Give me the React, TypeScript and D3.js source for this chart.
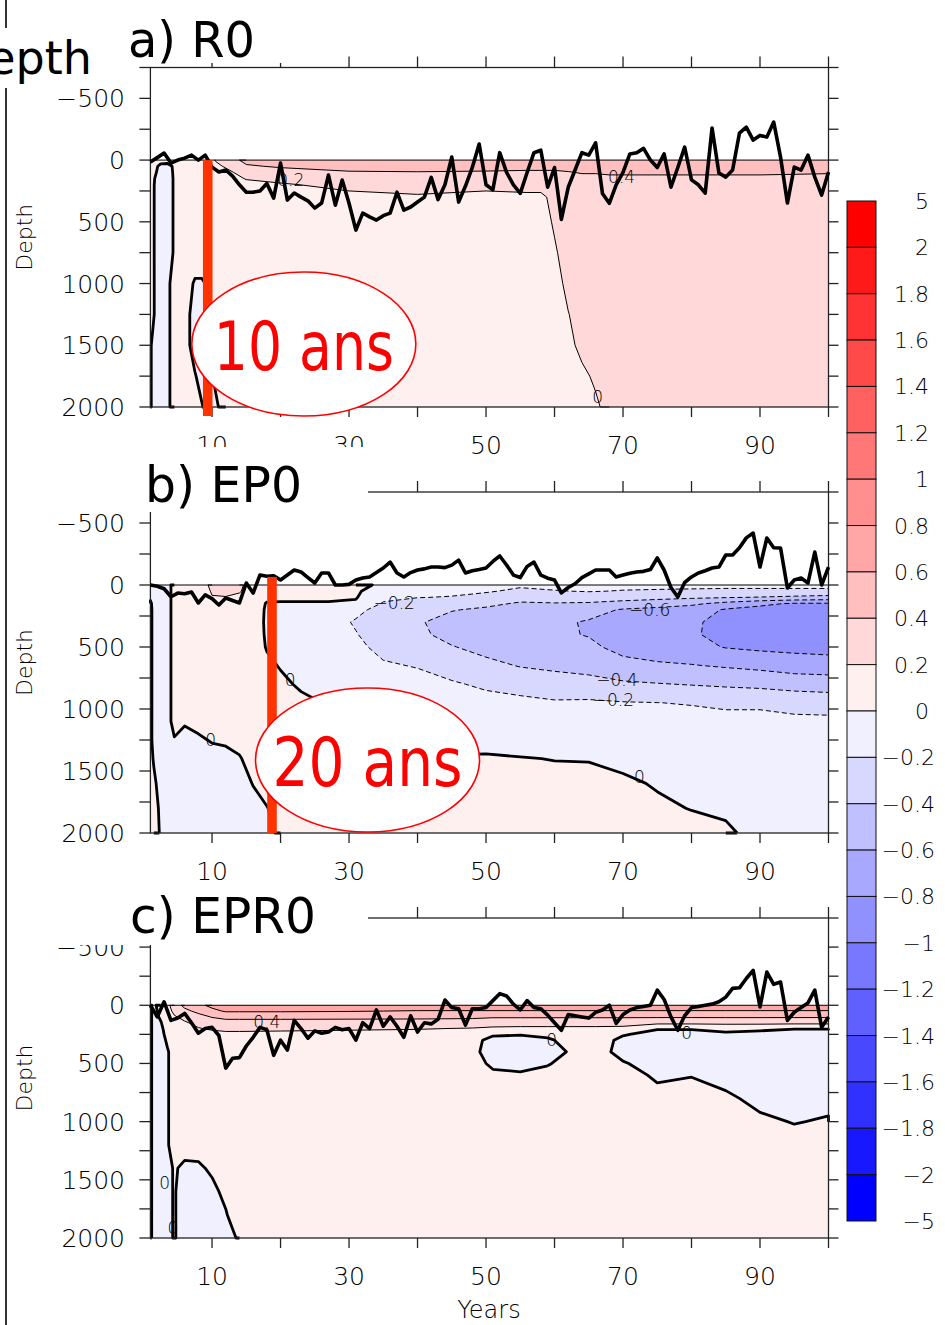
import React from 'react';
import * as d3 from 'd3';

// ---------------- contour levels / colour bar ----------------
const LEVELS = [-5, -2, -1.8, -1.6, -1.4, -1.2, -1, -0.8, -0.6, -0.4, -0.2, 0, 0.2, 0.4, 0.6, 0.8, 1, 1.2, 1.4, 1.6, 1.8, 2, 5];
const BAND_COLORS = ['#0000ff', '#1818ff', '#3030ff', '#4848ff', '#6060ff', '#7878ff', '#9090ff', '#a8a8ff', '#c0c0ff', '#d8d8ff', '#f0f0ff',
  '#fff0f0', '#ffd9d9', '#ffbfbf', '#ffa6a6', '#ff8e8e', '#ff7777', '#ff6060', '#ff4a4a', '#ff3333', '#ff1a1a', '#ff0000'];
const LINE_LEVELS = [-0.8, -0.6, -0.4, -0.2, 0, 0.2, 0.4, 0.6];

// ---------------- axes ----------------
const YEAR_TICKS = [10, 20, 30, 40, 50, 60, 70, 80, 90, 100];
const YEAR_LABELS = [10, 30, 50, 70, 90];
const DEPTH_TICKS = [-750, -500, -250, 0, 250, 500, 750, 1000, 1250, 1500, 1750, 2000];
const DEPTH_LABELS = [-500, 0, 500, 1000, 1500, 2000];
const LINE_YEARS = d3.range(1, 101);

// ---------------- panel a) R0 : field (rows = depths, cols = years) ----------------
const A_YEARS = [1, 1.5, 2.5, 3.5, 4.5, 5.5, 6.5, 7.5, 8.5, 9.5, 10.5, 12, 15, 20, 30, 40, 50, 56, 58, 60, 62, 64, 66, 68, 70, 80, 90, 100];
const A_DEPTHS = [0, 50, 100, 150, 200, 300, 500, 750, 1000, 1250, 1500, 1750, 2000];
const A_ROWS = [
  [0.05, 0.05, 0.05, 0.05, 0.05, 0.06, 0.06, 0.06, 0.08, 0.12, 0.21, 0.3, 0.45, 0.5, 0.55, 0.55, 0.55, 0.55, 0.55, 0.55, 0.52, 0.52, 0.52, 0.52, 0.52, 0.52, 0.52, 0.52],
  [0.05, 0.04, -0.03, -0.04, 0.02, 0.06, 0.06, 0.06, 0.07, 0.1, 0.16, 0.22, 0.38, 0.42, 0.48, 0.48, 0.47, 0.46, 0.46, 0.46, 0.46, 0.46, 0.46, 0.47, 0.47, 0.47, 0.47, 0.47],
  [0.05, 0.03, -0.05, -0.06, 0.02, 0.07, 0.07, 0.07, 0.07, 0.08, 0.1, 0.15, 0.28, 0.33, 0.38, 0.39, 0.38, 0.37, 0.37, 0.37, 0.39, 0.41, 0.41, 0.42, 0.42, 0.42, 0.42, 0.41],
  [0.04, 0.01, -0.07, -0.08, 0.02, 0.08, 0.08, 0.08, 0.08, 0.08, 0.08, 0.12, 0.21, 0.25, 0.3, 0.33, 0.3, 0.3, 0.3, 0.31, 0.35, 0.36, 0.36, 0.37, 0.37, 0.37, 0.37, 0.36],
  [0.03, 0.005, -0.08, -0.08, 0.02, 0.08, 0.08, 0.08, 0.08, 0.08, 0.08, 0.1, 0.15, 0.18, 0.25, 0.27, 0.25, 0.25, 0.25, 0.27, 0.31, 0.32, 0.32, 0.33, 0.33, 0.33, 0.33, 0.32],
  [0.02, 0.005, -0.09, -0.08, 0.02, 0.09, 0.09, 0.09, 0.09, 0.09, 0.09, 0.09, 0.1, 0.1, 0.15, 0.18, 0.15, 0.17, 0.17, 0.24, 0.28, 0.29, 0.29, 0.3, 0.3, 0.3, 0.3, 0.3],
  [0.02, 0.005, -0.09, -0.08, 0.02, 0.09, 0.09, 0.09, 0.09, 0.09, 0.09, 0.09, 0.09, 0.09, 0.1, 0.1, 0.1, 0.12, 0.13, 0.22, 0.27, 0.28, 0.28, 0.28, 0.28, 0.28, 0.28, 0.28],
  [0.02, 0.005, -0.09, -0.08, 0.02, 0.1, 0.1, 0.1, 0.1, 0.1, 0.1, 0.1, 0.1, 0.1, 0.1, 0.1, 0.1, 0.1, 0.12, 0.18, 0.27, 0.28, 0.28, 0.28, 0.28, 0.28, 0.28, 0.28],
  [0.02, 0.005, -0.08, -0.08, 0.15, 0.1, 0.05, -0.02, -0.02, 0.02, 0.06, 0.08, 0.1, 0.1, 0.1, 0.1, 0.1, 0.1, 0.1, 0.14, 0.24, 0.28, 0.28, 0.28, 0.28, 0.28, 0.28, 0.28],
  [0.02, 0.005, -0.08, -0.08, 0.15, 0.1, 0.02, -0.06, -0.06, -0.01, 0.05, 0.08, 0.1, 0.1, 0.1, 0.1, 0.1, 0.1, 0.1, 0.12, 0.195, 0.26, 0.28, 0.28, 0.28, 0.28, 0.28, 0.28],
  [0.01, -0.03, -0.08, -0.08, 0.15, 0.1, 0.02, -0.06, -0.06, -0.01, 0.05, 0.08, 0.1, 0.1, 0.1, 0.1, 0.1, 0.1, 0.1, 0.12, 0.15, 0.25, 0.27, 0.28, 0.28, 0.28, 0.28, 0.28],
  [0.01, -0.03, -0.08, -0.08, 0.15, 0.1, 0.08, 0.01, -0.05, -0.03, 0.02, 0.06, 0.1, 0.1, 0.1, 0.1, 0.1, 0.1, 0.1, 0.1, 0.13, 0.16, 0.23, 0.27, 0.28, 0.28, 0.28, 0.28],
  [0.01, -0.03, -0.08, -0.08, 0.15, 0.1, 0.08, 0.06, 0.01, -0.05, -0.02, 0.05, 0.1, 0.1, 0.1, 0.1, 0.1, 0.1, 0.1, 0.1, 0.12, 0.13, 0.17, 0.26, 0.28, 0.28, 0.28, 0.28],
];
const A_LINE = [
  16, -20, -57, 24, 0, -16, -40, 0, -40, 57,
  97, 80, 130, 200, 260, 260, 250, 190, 308, 24,
  324, 267, 300, 330, 389, 348, 121, 365, 162, 350,
  567, 429, 460, 486, 450, 430, 260, 405, 380, 340,
  300, 140, 320, 200, -25, 340, 210, 60, -130, 200,
  240, -60, 100, 200, 270, 100, -60, -80, 220, 60,
  480, 220, 80, -60, -40, -140, 270, 350, 200, 100,
  -50, -60, -95, 0, 60, -50, 220, 60, -105, 160,
  200, 267, -260, 105, 138, 80, -219, -267, -162, -200,
  -186, -308, -24, 348, 57, 81, -40, 138, 283, 97,
];

// ---------------- panel b) EP0 : field (one profile per year, values at depths) ----------------
const B_YEARS = [1, 1.5, 2.5, 3.5, 4.5, 6, 8, 10, 12, 14, 16, 18, 20, 23, 27, 31, 35, 40, 45, 50, 55, 60, 65, 70, 75, 80, 85, 90, 95, 100];
const B_DEPTHS = [0, 50, 100, 150, 200, 300, 400, 500, 650, 800, 950, 1100, 1250, 1400, 1600, 1800, 2000];
const B_PROFILES = [
  [-0.03, -0.03, -0.02, 0.02, 0.03, 0.03, 0.03, 0.03, 0.03, 0.03, 0.03, 0.03, 0.03, 0.03, 0.03, 0.03, 0.03],
  [-0.04, -0.04, -0.04, -0.04, -0.04, -0.04, -0.04, -0.04, -0.04, -0.04, -0.04, -0.04, -0.04, -0.01, 0.02, 0.04, 0.04],
  [-0.08, -0.08, -0.08, -0.08, -0.08, -0.08, -0.08, -0.08, -0.08, -0.08, -0.08, -0.08, -0.08, -0.08, -0.04, -0.02, -0.01],
  [-0.05, -0.05, -0.05, -0.05, -0.05, -0.05, -0.05, -0.05, -0.05, -0.05, -0.05, -0.05, -0.06, -0.06, -0.06, -0.06, -0.06],
  [0.05, 0.05, 0.05, 0.05, 0.05, 0.05, 0.05, 0.05, 0.05, 0.05, 0.05, 0.05, -0.01, -0.05, -0.06, -0.06, -0.06],
  [0.06, 0.06, 0.06, 0.06, 0.06, 0.06, 0.06, 0.06, 0.06, 0.06, 0.06, 0.02, -0.06, -0.07, -0.07, -0.07, -0.07],
  [0.08, 0.06, 0.06, 0.06, 0.06, 0.06, 0.06, 0.06, 0.06, 0.06, 0.06, 0.04, -0.02, -0.06, -0.06, -0.06, -0.06],
  [0.25, 0.22, 0.19, 0.08, 0.06, 0.06, 0.06, 0.06, 0.06, 0.06, 0.06, 0.06, 0.01, -0.05, -0.06, -0.06, -0.06],
  [0.3, 0.26, 0.19, 0.1, 0.06, 0.06, 0.06, 0.06, 0.06, 0.06, 0.06, 0.06, 0.02, -0.04, -0.06, -0.06, -0.06],
  [0.24, 0.22, 0.15, 0.08, 0.06, 0.06, 0.06, 0.06, 0.06, 0.06, 0.06, 0.06, 0.04, -0.01, -0.05, -0.05, -0.05],
  [0.1, 0.08, 0.08, 0.08, 0.08, 0.08, 0.08, 0.08, 0.08, 0.08, 0.08, 0.08, 0.08, 0.05, 0.005, -0.04, -0.05],
  [0.05, 0.05, 0.03, -0.01, -0.02, -0.025, -0.02, -0.01, 0.03, 0.05, 0.05, 0.05, 0.05, 0.05, 0.05, -0.005, -0.03],
  [0.05, 0.04, 0.02, -0.01, -0.03, -0.05, -0.05, -0.04, -0.01, 0.03, 0.05, 0.05, 0.05, 0.05, 0.05, 0.05, 0.02],
  [0.05, 0.04, 0.02, -0.01, -0.04, -0.07, -0.08, -0.08, -0.06, -0.02, 0.03, 0.05, 0.05, 0.05, 0.05, 0.05, 0.05],
  [0.05, 0.04, 0.02, -0.01, -0.05, -0.12, -0.13, -0.12, -0.09, -0.05, -0.01, 0.03, 0.05, 0.05, 0.05, 0.05, 0.05],
  [0.03, 0.02, 0.01, -0.02, -0.15, -0.22, -0.19, -0.16, -0.12, -0.08, -0.04, -0.005, 0.03, 0.05, 0.05, 0.05, 0.05],
  [-0.02, -0.08, -0.15, -0.22, -0.27, -0.32, -0.3, -0.25, -0.18, -0.12, -0.08, -0.03, 0.01, 0.03, 0.05, 0.05, 0.05],
  [-0.1, -0.15, -0.195, -0.3, -0.35, -0.38, -0.36, -0.3, -0.21, -0.14, -0.09, -0.05, -0.005, 0.03, 0.05, 0.05, 0.05],
  [-0.12, -0.16, -0.21, -0.3, -0.39, -0.47, -0.46, -0.39, -0.28, -0.18, -0.12, -0.08, -0.04, 0.01, 0.04, 0.05, 0.05],
  [-0.14, -0.18, -0.27, -0.36, -0.43, -0.51, -0.52, -0.46, -0.35, -0.23, -0.14, -0.09, -0.03, 0.01, 0.03, 0.04, 0.05],
  [-0.17, -0.24, -0.34, -0.42, -0.48, -0.55, -0.56, -0.52, -0.41, -0.28, -0.15, -0.1, -0.05, 0.005, 0.03, 0.04, 0.05],
  [-0.15, -0.21, -0.32, -0.41, -0.48, -0.56, -0.57, -0.54, -0.44, -0.31, -0.18, -0.1, -0.04, -0.003, 0.03, 0.04, 0.05],
  [-0.14, -0.19, -0.31, -0.42, -0.52, -0.62, -0.61, -0.56, -0.46, -0.34, -0.17, -0.1, -0.05, -0.005, 0.03, 0.04, 0.05],
  [-0.15, -0.21, -0.33, -0.46, -0.62, -0.69, -0.7, -0.66, -0.54, -0.37, -0.19, -0.12, -0.07, -0.015, 0.01, 0.03, 0.05],
  [-0.15, -0.22, -0.35, -0.5, -0.66, -0.74, -0.75, -0.71, -0.57, -0.39, -0.198, -0.13, -0.09, -0.06, -0.005, 0.01, 0.03],
  [-0.15, -0.23, -0.37, -0.56, -0.7, -0.77, -0.78, -0.74, -0.59, -0.41, -0.21, -0.14, -0.1, -0.07, -0.04, -0.002, 0.02],
  [-0.15, -0.24, -0.39, -0.66, -0.82, -0.86, -0.85, -0.81, -0.62, -0.43, -0.23, -0.15, -0.11, -0.08, -0.05, -0.01, 0.01],
  [-0.15, -0.24, -0.41, -0.76, -0.86, -0.9, -0.89, -0.84, -0.65, -0.45, -0.23, -0.15, -0.12, -0.09, -0.06, -0.04, -0.02],
  [-0.15, -0.24, -0.44, -0.82, -0.87, -0.93, -0.92, -0.85, -0.7, -0.47, -0.28, -0.15, -0.12, -0.1, -0.07, -0.05, -0.03],
  [-0.15, -0.24, -0.47, -0.82, -0.88, -0.95, -0.93, -0.86, -0.72, -0.48, -0.3, -0.15, -0.13, -0.11, -0.09, -0.06, -0.04],
];
const B_LINE = [
  0, 10, 30, 95, 65, 70, 56, 145, 80, 110,
  161, 105, 125, 145, -16, 65, -81, -70, -75, -40,
  -80, -121, -105, -60, -16, -97, -97, 0, 0, -5,
  -40, -56, -65, -100, -137, -185, -97, -65, -100, -121,
  -130, -145, -145, -140, -160, -201, -97, -115, -125, -137,
  -190, -234, -161, -80, -60, -150, -185, -80, -55, -40,
  64, 20, -10, -60, -90, -121, -121, -121, -65, -80,
  -95, -105, -110, -125, -218, -121, 20, 97, -20, -65,
  -97, -115, -137, -145, -242, -242, -300, -380, -419, -145,
  -379, -300, -298, 24, -40, -56, -16, -266, 0, -145,
];

// ---------------- panel c) EPR0 ----------------
const C_YEARS = [1, 1.5, 2.5, 3.5, 4.5, 6, 8, 10, 12, 14, 20, 30, 40, 48, 51, 55, 59, 62, 66, 70, 75, 80, 85, 90, 95, 100];
const C_DEPTHS = [0, 50, 100, 150, 200, 250, 300, 400, 500, 600, 800, 1000, 1200, 1400, 1600, 1800, 2000];
const C_PROFILES = [
  [0.03, 0.03, 0.03, 0.03, 0.03, 0.03, 0.03, 0.03, 0.03, 0.03, 0.03, 0.03, 0.03, 0.03, 0.03, 0.03, 0.03],
  [-0.05, -0.05, -0.05, -0.05, -0.05, -0.05, -0.05, -0.05, -0.05, -0.05, -0.05, -0.05, -0.05, -0.05, -0.05, -0.05, -0.05],
  [0.1, 0.05, 0.02, -0.01, -0.03, -0.04, -0.05, -0.06, -0.06, -0.06, -0.06, -0.06, -0.06, -0.06, -0.06, -0.06, -0.06],
  [0.15, 0.12, 0.1, 0.08, 0.06, 0.04, 0.02, -0.01, -0.01, -0.01, -0.01, -0.01, -0.01, -0.03, -0.03, -0.03, -0.03],
  [0.3, 0.25, 0.18, 0.12, 0.1, 0.08, 0.08, 0.05, 0.05, 0.05, 0.05, 0.05, 0.05, 0.01, 0.01, 0.01, 0.01],
  [0.45, 0.35, 0.25, 0.18, 0.14, 0.12, 0.1, 0.08, 0.08, 0.08, 0.08, 0.08, 0.04, -0.02, -0.06, -0.06, -0.06],
  [0.55, 0.45, 0.33, 0.25, 0.19, 0.14, 0.11, 0.08, 0.08, 0.08, 0.08, 0.08, 0.05, -0.02, -0.05, -0.05, -0.05],
  [0.65, 0.55, 0.41, 0.3, 0.22, 0.15, 0.11, 0.08, 0.08, 0.08, 0.08, 0.08, 0.08, 0.02, -0.03, -0.05, -0.05],
  [0.7, 0.62, 0.45, 0.33, 0.24, 0.16, 0.12, 0.08, 0.08, 0.08, 0.08, 0.08, 0.08, 0.08, 0.03, -0.01, -0.03],
  [0.72, 0.62, 0.45, 0.33, 0.24, 0.16, 0.12, 0.08, 0.08, 0.08, 0.08, 0.08, 0.08, 0.08, 0.08, 0.08, 0.01],
  [0.72, 0.62, 0.45, 0.33, 0.23, 0.16, 0.12, 0.08, 0.08, 0.08, 0.08, 0.08, 0.08, 0.08, 0.08, 0.08, 0.08],
  [0.72, 0.61, 0.45, 0.32, 0.22, 0.15, 0.11, 0.08, 0.08, 0.08, 0.08, 0.08, 0.08, 0.08, 0.08, 0.08, 0.08],
  [0.72, 0.59, 0.45, 0.31, 0.21, 0.14, 0.1, 0.08, 0.08, 0.08, 0.08, 0.08, 0.08, 0.08, 0.08, 0.08, 0.08],
  [0.72, 0.59, 0.44, 0.3, 0.19, 0.1, 0.05, 0.04, 0.06, 0.08, 0.08, 0.08, 0.08, 0.08, 0.08, 0.08, 0.08],
  [0.72, 0.59, 0.42, 0.28, 0.17, 0.02, -0.05, -0.07, -0.03, 0.03, 0.08, 0.08, 0.08, 0.08, 0.08, 0.08, 0.08],
  [0.72, 0.59, 0.42, 0.28, 0.16, 0.01, -0.06, -0.08, -0.05, 0.02, 0.08, 0.08, 0.08, 0.08, 0.08, 0.08, 0.08],
  [0.72, 0.59, 0.42, 0.28, 0.16, 0.03, -0.02, -0.05, -0.01, 0.04, 0.08, 0.08, 0.08, 0.08, 0.08, 0.08, 0.08],
  [0.72, 0.59, 0.42, 0.28, 0.16, 0.08, 0.04, 0.005, 0.04, 0.08, 0.08, 0.08, 0.08, 0.08, 0.08, 0.08, 0.08],
  [0.72, 0.59, 0.42, 0.28, 0.16, 0.08, 0.06, 0.05, 0.06, 0.08, 0.08, 0.08, 0.08, 0.08, 0.08, 0.08, 0.08],
  [0.72, 0.59, 0.42, 0.28, 0.15, 0.01, -0.03, -0.04, 0.01, 0.05, 0.08, 0.08, 0.08, 0.08, 0.08, 0.08, 0.08],
  [0.72, 0.59, 0.42, 0.25, 0.01, -0.04, -0.06, -0.06, -0.05, -0.02, 0.04, 0.08, 0.08, 0.08, 0.08, 0.08, 0.08],
  [0.72, 0.59, 0.42, 0.25, 0.01, -0.04, -0.06, -0.06, -0.04, -0.005, 0.05, 0.08, 0.08, 0.08, 0.08, 0.08, 0.08],
  [0.72, 0.59, 0.42, 0.26, 0.03, -0.02, -0.05, -0.06, -0.05, -0.04, 0.02, 0.06, 0.08, 0.08, 0.08, 0.08, 0.08],
  [0.72, 0.59, 0.42, 0.26, 0.02, -0.03, -0.05, -0.06, -0.06, -0.05, -0.03, 0.02, 0.06, 0.08, 0.08, 0.08, 0.08],
  [0.72, 0.59, 0.42, 0.25, 0.005, -0.04, -0.06, -0.06, -0.06, -0.05, -0.04, -0.005, 0.04, 0.08, 0.08, 0.08, 0.08],
  [0.72, 0.59, 0.42, 0.25, 0.005, -0.04, -0.06, -0.06, -0.06, -0.05, -0.03, 0.01, 0.05, 0.08, 0.08, 0.08, 0.08],
];
const C_LINE = [
  0, 100, -30, 130, 110, 70, 150, 240, 200, 190,
  260, 540, 455, 450, 350, 275, 190, 210, 430, 300,
  385, 130, 200, 283, 220, 240, 230, 190, 210, 200,
  300, 150, 200, 40, 180, 100, 180, 275, 90, 230,
  150, 160, 120, -45, 20, 30, 170, 30, 30, 20,
  -40, -100, -80, -10, 40, -40, 20, 30, 85, 150,
  215, 80, 90, 100, 110, 60, 40, 0, 155, 80,
  40, 20, 10, 0, -130, -50, 100, 215, 90, 20,
  10, 0, -10, -30, -70, -145, -150, -230, -300, 15,
  -285, -180, -200, 130, 60, 20, -20, -130, 190, 100,
];

// ---------------- contour labels ----------------
const A_LABELS = [
  { year: 21.5, depth: 165, text: '0.2' },
  { year: 69.8, depth: 140, text: '0.4' },
  { year: 66.3, depth: 1915, text: '0' },
];
const B_LABELS = [
  { year: 36.6, depth: 145, text: '\u22120.2' },
  { year: 73.9, depth: 200, text: '\u22120.6' },
  { year: 69.1, depth: 770, text: '\u22120.4' },
  { year: 68.6, depth: 930, text: '\u22120.2' },
  { year: 21.4, depth: 766, text: '0' },
  { year: 9.8, depth: 1250, text: '0' },
  { year: 72.4, depth: 1550, text: '0' },
];
const C_LABELS = [
  { year: 59.6, depth: 300, text: '0' },
  { year: 79.3, depth: 240, text: '0' },
  { year: 3.1, depth: 1530, text: '0' },
  { year: 4.3, depth: 1910, text: '0' },
  { year: 18, depth: 140, text: '0.4' },
];

// ---------------- helpers ----------------
const fromRows = (rows: number[][]) => rows.flat();
const fromProfiles = (profiles: number[][]) => {
  const ny = profiles[0].length, nx = profiles.length;
  const out: number[] = [];
  for (let r = 0; r < ny; r++) for (let c = 0; c < nx; c++) out.push(profiles[c][r]);
  return out;
};
const fmt = (v: number) => (v < 0 ? '\u2212' : '') + String(Math.abs(v));

const X0 = 150.4, X1 = 828.5;
const FONT = "'DejaVu Sans', sans-serif";
const THIN = 200;

type PanelCfg = {
  title: string; titleX: number; titleLen: number; titleBase: number;
  top: number; bottom: number;
  years: number[]; depths: number[]; values: number[];
  line: number[]; labels: { year: number; depth: number; text: string }[];
  box: [number, number, number, number];
  bar: { year: number; d0: number; d1: number } | null;
  ellipse: { year: number; depth: number; text: string; len: number } | null;
};

const PANELS: PanelCfg[] = [
  {
    title: 'a) R0', titleX: 128, titleLen: 127, titleBase: 57, top: 67.5, bottom: 407,
    years: A_YEARS, depths: A_DEPTHS, values: fromRows(A_ROWS), line: A_LINE, labels: A_LABELS,
    box: [118, 0, 190, 63], bar: { year: 9.37, d0: 0, d1: 2073 },
    ellipse: { year: 23.4, depth: 1490, text: '10 ans', len: 180 },
  },
  {
    title: 'b) EP0', titleX: 145, titleLen: 157, titleBase: 502, top: 492, bottom: 833,
    years: B_YEARS, depths: B_DEPTHS, values: fromProfiles(B_PROFILES), line: B_LINE, labels: B_LABELS,
    box: [10, 447, 358, 65], bar: { year: 18.75, d0: -65, d1: 2000 },
    ellipse: { year: 32.7, depth: 1411, text: '20 ans', len: 190 },
  },
  {
    title: 'c) EPR0', titleX: 130, titleLen: 186, titleBase: 933, top: 918, bottom: 1238,
    years: C_YEARS, depths: C_DEPTHS, values: fromProfiles(C_PROFILES), line: C_LINE, labels: C_LABELS,
    box: [10, 882, 358, 63], bar: null, ellipse: null,
  },
];

function Panel({ p }: { p: PanelCfg }) {
  const x = d3.scaleLinear().domain([1, 100]).range([X0, X1]);
  const y = d3.scaleLinear().domain([-750, 2000]).range([p.top, p.bottom]);
  const nx = p.years.length, ny = p.depths.length;
  const gx = d3.scaleLinear().domain(d3.range(nx)).range(p.years);
  const gy = d3.scaleLinear().domain(d3.range(ny)).range(p.depths);
  const cx = (c: number) => x(gx(Math.max(0, Math.min(nx - 1, c - 0.5))));
  const cy = (c: number) => y(gy(Math.max(0, Math.min(ny - 1, c - 0.5))));
  const gen = d3.contours().size([nx, ny]);

  const fills = LEVELS.slice(0, -1).map((t, i) => {
    const g = gen.contour(p.values, t);
    let d = '';
    g.coordinates.forEach((poly: any) => poly.forEach((ring: any) => {
      d += 'M' + ring.map((pt: number[]) => `${cx(pt[0]).toFixed(2)},${cy(pt[1]).toFixed(2)}`).join('L') + 'Z';
    }));
    return { d, color: BAND_COLORS[i] };
  });

  const lines = LINE_LEVELS.map((t) => {
    const g = gen.contour(p.values, t);
    let d = '';
    g.coordinates.forEach((poly: any) => poly.forEach((ring: number[][]) => {
      let pen = false;
      for (let i = 0; i < ring.length - 1; i++) {
        const a = ring[i], b = ring[i + 1];
        const border = (a[0] === 0 && b[0] === 0) || (a[0] === nx && b[0] === nx) ||
          (a[1] === 0 && b[1] === 0) || (a[1] === ny && b[1] === ny);
        if (border) { pen = false; continue; }
        if (!pen) { d += `M${cx(a[0]).toFixed(2)},${cy(a[1]).toFixed(2)}`; pen = true; }
        d += `L${cx(b[0]).toFixed(2)},${cy(b[1]).toFixed(2)}`;
      }
    }));
    return { t, d };
  });

  const series = d3.line<number>().x((_, i) => x(LINE_YEARS[i])).y((v) => y(v))(p.line) || '';
  const yTop = y(-750), yBot = y(2000), yZero = y(0);
  const midY = (p.top + p.bottom) / 2;

  return (
    <g>
      {fills.map((f, i) => <path key={'f' + i} d={f.d} fill={f.color} fillRule="evenodd" stroke="none" />)}
      {lines.map((l) => (
        <path key={'l' + l.t} d={l.d} fill="none" stroke="#000"
          strokeWidth={l.t === 0 ? 2.8 : 1}
          strokeDasharray={l.t < 0 ? '5 3' : undefined} strokeLinejoin="round" />
      ))}
      {p.labels.map((lb, i) => (
        <text key={'lb' + i} x={x(lb.year)} y={y(lb.depth)} fontSize={17} fontFamily={FONT} fontWeight={THIN}
          textAnchor="middle" dominantBaseline="central" fill="#000">{lb.text}</text>
      ))}
      {/* frame */}
      <line x1={X0} x2={X1} y1={yZero} y2={yZero} stroke="#000" strokeWidth={1} />
      <rect x={X0} y={yTop} width={X1 - X0} height={yBot - yTop} fill="none" stroke="#222" strokeWidth={1.3} />
      {DEPTH_TICKS.map((v) => (
        <g key={'dt' + v}>
          <line x1={X0 - 11} x2={X0} y1={y(v)} y2={y(v)} stroke="#222" strokeWidth={1.3} />
          <line x1={X1} x2={X1 + 10} y1={y(v)} y2={y(v)} stroke="#222" strokeWidth={1.3} />
        </g>
      ))}
      {YEAR_TICKS.map((v) => (
        <g key={'yt' + v}>
          <line x1={x(v)} x2={x(v)} y1={yTop - 11} y2={yTop} stroke="#222" strokeWidth={1.3} />
          <line x1={x(v)} x2={x(v)} y1={yBot} y2={yBot + 10} stroke="#222" strokeWidth={1.3} />
        </g>
      ))}
      {DEPTH_LABELS.map((v) => (
        <text key={'dl' + v} x={125} y={y(v) + 9} textAnchor="end" fontSize={25} fontFamily={FONT} fontWeight={THIN} fill="#000">{fmt(v)}</text>
      ))}
      {YEAR_LABELS.map((v) => (
        <text key={'yl' + v} x={x(v)} y={yBot + 47} textAnchor="middle" fontSize={25} fontFamily={FONT} fontWeight={THIN} fill="#000">{v}</text>
      ))}
      <text transform={`translate(32,${midY}) rotate(-90)`} textAnchor="middle" fontSize={22} fontFamily={FONT} fontWeight={THIN} fill="#000">Depth</text>
      {/* time series */}
      <path d={series} fill="none" stroke="#000" strokeWidth={3.6} strokeLinejoin="round" />
      {/* annotations */}
      {p.bar && (
        <rect x={x(p.bar.year) - 4.8} width={9.6} y={y(p.bar.d0)} height={y(p.bar.d1) - y(p.bar.d0)} fill="#ff3300" />
      )}
      {p.ellipse && (
        <g>
          <ellipse cx={x(p.ellipse.year)} cy={y(p.ellipse.depth)} rx={112} ry={72} fill="#fff" stroke="#ff0000" strokeWidth={1.6} />
          <text x={x(p.ellipse.year)} y={y(p.ellipse.depth) + 26} textAnchor="middle" fontSize={68}
            fontFamily={FONT} fill="#ff0000" textLength={p.ellipse.len} lengthAdjust="spacingAndGlyphs">{p.ellipse.text}</text>
        </g>
      )}
      {/* title */}
      <rect x={p.box[0]} y={p.box[1]} width={p.box[2]} height={p.box[3]} fill="#fff" />
      <text x={p.titleX} y={p.titleBase} fontSize={49} fontFamily={FONT} fill="#000"
        textLength={p.titleLen} lengthAdjust="spacingAndGlyphs">{p.title}</text>
    </g>
  );
}

function ColorBar() {
  const labels = LEVELS.slice().reverse();
  const yb = d3.scalePoint<string>().domain(labels.map(String)).range([201, 1221]);
  const bx = 847, bw = 29;
  return (
    <g>
      {labels.slice(0, -1).map((v, i) => {
        const next = labels[i + 1];
        const colorIdx = LEVELS.indexOf(next);
        return (
          <rect key={'cb' + i} x={bx} y={yb(String(v))} width={bw} height={(yb(String(next)) as number) - (yb(String(v)) as number)}
            fill={BAND_COLORS[colorIdx]} stroke="#111" strokeWidth={1} />
        );
      })}
      {labels.map((v) => (
        <text key={'cl' + v} x={v < 0 ? 935 : 929} y={(yb(String(v)) as number) + 8} textAnchor="end"
          fontSize={22} fontFamily={FONT} fontWeight={THIN} fill="#000">{fmt(v)}</text>
      ))}
    </g>
  );
}

export default function App() {
  return (
    <svg width={945} height={1325} viewBox="0 0 945 1325"
      style={{ position: 'absolute', left: 0, top: 0, background: '#fff' }}>
      <rect x={0} y={0} width={945} height={1325} fill="#fff" />
      <line x1={6} x2={6} y1={0} y2={1325} stroke="#000" strokeWidth={1.6} />
      {PANELS.map((p, i) => <Panel key={i} p={p} />)}
      <ColorBar />
      <text x={489} y={1318} textAnchor="middle" fontSize={24} fontFamily={FONT} fontWeight={THIN} fill="#000">Years</text>
      <rect x={0} y={28} width={95} height={60} fill="#fff" />
      <text x={92} y={74} textAnchor="end" fontSize={46} fontFamily={FONT} fill="#000">Depth</text>
    </svg>
  );
}
